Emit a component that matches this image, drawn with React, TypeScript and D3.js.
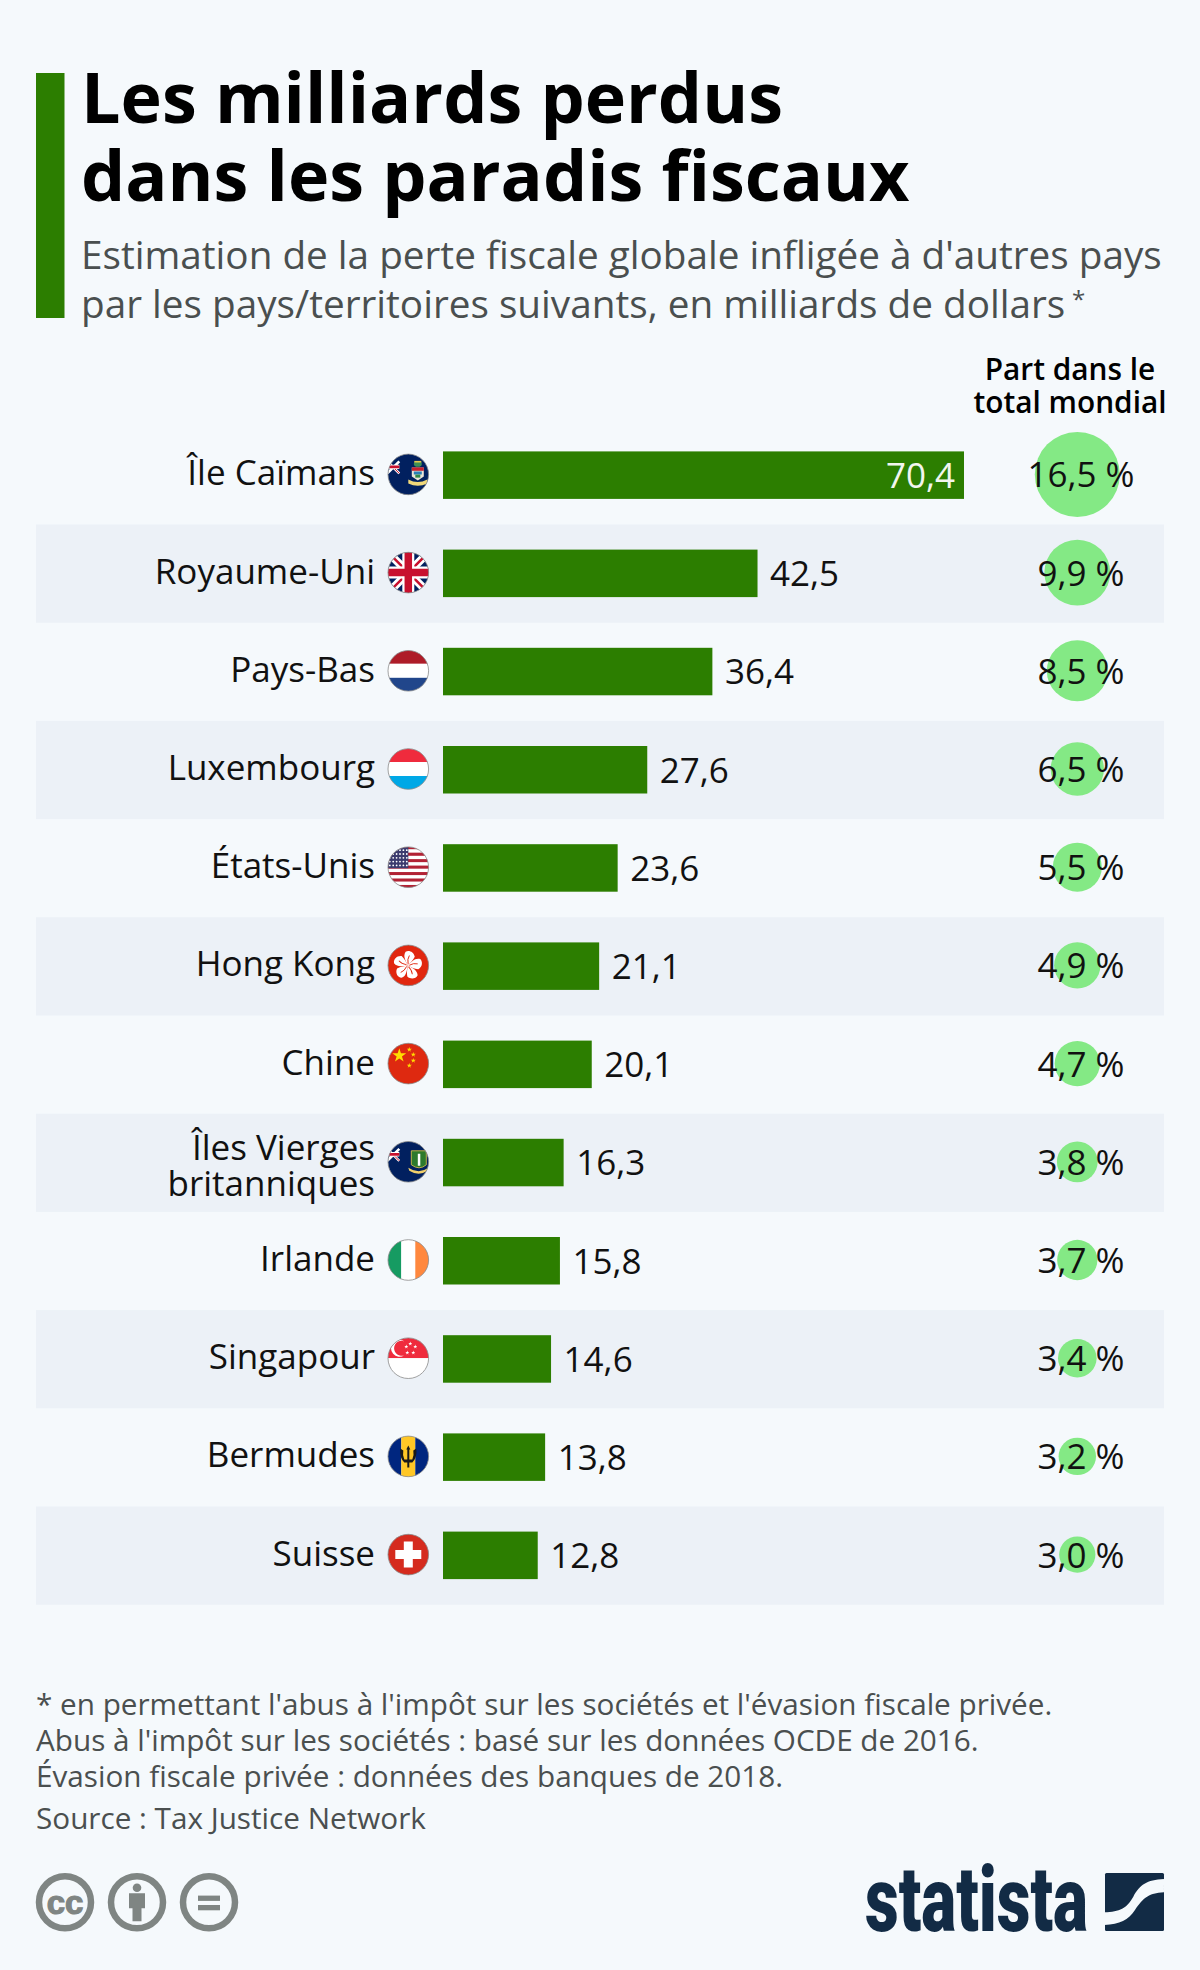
import * as d3 from "d3"

const countries = ["Île Caïmans", "Royaume-Uni", "Pays-Bas", "Luxembourg", "États-Unis", "Hong Kong", "Chine", "Îles Vierges britanniques", "Irlande", "Singapour", "Bermudes", "Suisse"]
const lossValues = [70.4, 42.5, 36.4, 27.6, 23.6, 21.1, 20.1, 16.3, 15.8, 14.6, 13.8, 12.8]
const shareValues = [16.5, 9.9, 8.5, 6.5, 5.5, 4.9, 4.7, 3.8, 3.7, 3.4, 3.2, 3.0]
const flagKeys = ["ky", "uk", "nl", "lu", "us", "hk", "cn", "vg", "ie", "sg", "bb", "ch"]
const titleLines = ["Les milliards perdus", "dans les paradis fiscaux"]
const subtitleLines = ["Estimation de la perte fiscale globale infligée à d'autres pays", "par les pays/territoires suivants, en milliards de dollars"]
const noteLines = ["* en permettant l'abus à l'impôt sur les sociétés et l'évasion fiscale privée.", "Abus à l'impôt sur les sociétés : basé sur les données OCDE de 2016.", "Évasion fiscale privée : données des banques de 2018."]

const FONT = "'Open Sans', sans-serif"
const GREEN = "#2c7e00"
const GREY = "#7f8583"
const NAVY = "#122b45"
const BG = "#f5f9fc"
const fr = (v: number) => d3.format(".1f")(v).replace(".", ",")

const x = d3.scaleLinear().domain([0, 70.4]).range([443, 964])
const y = d3.scaleBand<string>().domain(countries).range([426.3, 1604.7])
const r = d3.scaleSqrt().domain([0, 16.5]).range([0, 42.5])

const star = (size: number) => d3.symbol(d3.symbolStar, size)() as string

const Stripes = ({ colors, vertical }: { colors: string[], vertical?: boolean }) => {
  const s = d3.scaleBand<number>().domain(d3.range(colors.length)).range([-21, 21])
  return <>
    {colors.map((c, i) => vertical
      ? <rect key={i} x={s(i)} y={-21} width={s.bandwidth()} height={42} fill={c} />
      : <rect key={i} x={-21} y={s(i)} width={42} height={s.bandwidth()} fill={c} />)}
  </>
}

// blue ensign shared by the two british territories
const Ensign = () => <>
  <rect x={-21} y={-21} width={42} height={42} fill="#01205f" />
  <path d="M-21,-13 L-9,-1 M-21,-1 L-9,-13" stroke="#fff" strokeWidth={2.6} />
  <path d="M-21,-13 L-9,-1" stroke="#c8102e" strokeWidth={1} />
  <path d="M-21,-7.5 H-9" stroke="#fff" strokeWidth={4.4} />
  <path d="M-21,-7.5 H-9" stroke="#c8102e" strokeWidth={2.8} />
</>

const FlagArt = ({ k }: { k: string }) => {
  switch (k) {
    case "ky":
      return <>
        <Ensign />
        <ellipse cx={9.5} cy={-10.5} rx={4} ry={2.8} fill="#3f8f55" />
        <rect x={6} y={-13.5} width={7} height={1.6} fill="#e8c84a" />
        <path d="M3.5,-7 h12 v9 l-6,4 l-6,-4 z" fill="#e9e4d8" />
        <rect x={3.5} y={-7} width={12} height={3.4} fill="#c8202e" />
        <path d="M5.5,-3 h8 v3 h-8 z" fill="#2a7fb8" />
        <rect x={7} y={0.2} width={5} height={3} fill="#2f8a4a" />
        <path d="M0,5 Q9.5,10 19,5 l0,4 Q9.5,13.5 0,9 z" fill="#f0d87a" />
      </>
    case "uk":
      return <>
        <rect x={-21} y={-21} width={42} height={42} fill="#01205f" />
        <path d="M-21,-21 L21,21 M-21,21 L21,-21" stroke="#fff" strokeWidth={8} />
        <path d="M-21,-21 L21,21 M-21,21 L21,-21" stroke="#c8102e" strokeWidth={2.5} />
        <path d="M0,-21 V21 M-21,0 H21" stroke="#fff" strokeWidth={12} />
        <path d="M0,-21 V21 M-21,0 H21" stroke="#c8102e" strokeWidth={7.5} />
      </>
    case "nl":
      return <Stripes colors={["#ae1c28", "#fff", "#21468b"]} />
    case "lu":
      return <Stripes colors={["#ef2b3d", "#fff", "#00a8e6"]} />
    case "us":
      return <>
        <Stripes colors={d3.range(13).map(i => i % 2 ? "#fff" : "#b22234")} />
        <rect x={-21} y={-21} width={21} height={22} fill="#3c3b6e" />
        {d3.range(5).flatMap(row => d3.range(6).map(col =>
          <circle key={row + "-" + col} cx={-18.5 + col * 3.4} cy={-17 + row * 3.8} r={0.9} fill="#fff" />))}
      </>
    case "hk":
      return <>
        <rect x={-21} y={-21} width={42} height={42} fill="#e1270f" />
        <g transform="translate(-0.5,0) rotate(12)">
          {d3.range(5).map(i =>
            <path key={i} transform={`rotate(${i * 72})`} d="M0,0 C-3,-4 -7,-8 -5,-13 C-2,-15.5 3,-14.5 5,-10 C4,-6 2,-3 0,0 Z" fill="#fff" />)}
          {d3.range(5).map(i =>
            <path key={i} transform={`rotate(${i * 72})`} d="M0,-1.5 Q-2,-6 -0.5,-10" fill="none" stroke="#e1270f" strokeWidth={0.9} />)}
        </g>
      </>
    case "cn":
      return <>
        <rect x={-21} y={-21} width={42} height={42} fill="#de2910" />
        <path transform="translate(-9,-8)" d={star(60)} fill="#ffde00" />
        {[[1, -14], [5, -9], [5, -3], [1, 2]].map(([px, py], i) =>
          <path key={i} transform={`translate(${px},${py})`} d={star(8)} fill="#ffde00" />)}
      </>
    case "vg":
      return <>
        <Ensign />
        <path d="M3,-11 h15 v14 q-7,6 -15,0 z" fill="#2d7a2d" stroke="#e8c84a" strokeWidth={0.8} />
        <path d="M9.5,-8 h2.5 v12 h-2.5 z" fill="#fff" />
        <path d="M0,6 Q10.5,13 20,6 l-1,3 Q10.5,15 1,9 z" fill="#f2d06b" />
      </>
    case "ie":
      return <Stripes vertical colors={["#169b62", "#fff", "#ff883e"]} />
    case "sg":
      return <>
        <Stripes colors={["#ef2b3d", "#fff"]} />
        <path d="M-4,-17 A8.5,8.5 0 1 0 -4,-3 A7.5,7.5 0 1 1 -4,-17 Z" fill="#fff" />
        {[[1, -15], [6, -12], [4, -6], [-2, -6], [-3, -12]].map(([px, py], i) =>
          <path key={i} transform={`translate(${px + 1},${py + 0.5})`} d={star(5)} fill="#fff" />)}
      </>
    case "bb":
      return <>
        <Stripes vertical colors={["#00267f", "#ffc726", "#00267f"]} />
        <path d="M0,-11 L2,-7 L1,-7 V3 H4 Q6,-1 5,-6 L8,-8 Q9,1 4,6 H1 V11 H-1 V6 H-4 Q-9,1 -8,-8 L-5,-6 Q-6,-1 -4,3 H-1 V-7 H-2 Z" fill="#1a1a1a" />
      </>
    case "ch":
      return <>
        <rect x={-21} y={-21} width={42} height={42} fill="#d52b1e" />
        <path d="M-4.5,-13 h9 v8.5 h8.5 v9 h-8.5 v8.5 h-9 v-8.5 h-8.5 v-9 h8.5 z" fill="#fff" />
      </>
    default:
      return null
  }
}

const Flag = ({ k, cy }: { k: string, cy: number }) => <g transform={`translate(408.3,${cy})`}>
  <clipPath id={"clip-" + k}><circle r={20.3} /></clipPath>
  <g clipPath={`url(#clip-${k})`}><FlagArt k={k} /></g>
  <circle r={20.3} fill="none" stroke="#8a8a8a" strokeWidth={0.8} />
</g>

const CcIcon = ({ cx, children }: { cx: number, children: any }) => <g transform={`translate(${cx},1902.3)`}>
  <circle r={26} fill="none" stroke={GREY} strokeWidth={6.5} />
  {children}
</g>

export default function App() {
  return (
    <svg width={1200} height={1970} viewBox="0 0 1200 1970" style={{ position: "absolute", left: 0, top: 0, display: "block" }} fontFamily={FONT}>
      <rect width={1200} height={1970} fill={BG} />

      <rect x={36} y={73} width={28.5} height={245} fill={GREEN} />
      <text fontSize={70} fontWeight={700} fill="#000">
        {titleLines.map((t, i) => <tspan key={t} x={81} y={123 + i * 78}>{t}</tspan>)}
      </text>
      <text fontSize={38.7} fill="#4a4f4f">
        {subtitleLines.map((t, i) => <tspan key={t} x={81} y={269 + i * 48.5}>{t}</tspan>)}
        <tspan x={1072} y={308} fontSize={24}>*</tspan>
      </text>

      <text textAnchor="middle" fontSize={29.8} fontWeight={600} fill="#000">
        <tspan x={1070} y={380}>Part dans le</tspan>
        <tspan x={1070} y={413}>total mondial</tspan>
      </text>

      {countries.map((c, i) => i % 2 === 1 &&
        <rect key={c} x={36} y={y(c)} width={1128} height={y.bandwidth()} fill="#ecf1f7" />)}

      {countries.map((c, i) => {
        const cy = y(c)! + y.bandwidth() / 2
        const two = c.startsWith("Îles Vierges")
        const inside = lossValues[i] > 60
        return <g key={c}>
          {two
            ? <text textAnchor="end" fontSize={35} fill="#111">
              <tspan x={375} y={cy - 3}>Îles Vierges</tspan>
              <tspan x={375} y={cy + 33.5}>britanniques</tspan>
            </text>
            : <text textAnchor="end" x={375} y={cy + 10} fontSize={35} fill="#111">{c}</text>}
          <Flag k={flagKeys[i]} cy={cy - 1} />
          <rect x={x(0)} y={cy - 24} width={x(lossValues[i]) - x(0)} height={47.5} fill={GREEN} />
          <text x={inside ? x(lossValues[i]) - 9 : x(lossValues[i]) + 12.5} textAnchor={inside ? "end" : "start"} y={cy + 12.5} fontSize={35} fill={inside ? "#f2f6ee" : "#111"}>{fr(lossValues[i])}</text>
          <circle cx={1077.3} cy={cy - 1} r={r(shareValues[i])} fill="#84e985" />
          <text x={1081} textAnchor="middle" y={cy + 12} fontSize={35} fill="#111">{fr(shareValues[i]) + " %"}</text>
        </g>
      })}

      <text fontSize={29.7} fill="#4a4f4f">
        {noteLines.map((t, i) => <tspan key={t} x={36} y={1715 + i * 36}>{t}</tspan>)}
      </text>
      <text x={36} y={1829} fontSize={29.7} fill="#4a4f4f">Source : Tax Justice Network</text>

      <CcIcon cx={65}>
        <text textAnchor="middle" y={11.5} fontSize={33} fontWeight={700} fill={GREY} fontFamily="'Liberation Sans', sans-serif" stroke={GREY} strokeWidth={1.2}>cc</text>
      </CcIcon>
      <CcIcon cx={137}>
        <circle cy={-14.5} r={4.3} fill={GREY} />
        <path d="M-8,-9 H8 V6 H4.5 V19 H-4.5 V6 H-8 Z" fill={GREY} />
      </CcIcon>
      <CcIcon cx={209}>
        <rect x={-11} y={-6.7} width={22} height={5.3} fill={GREY} />
        <rect x={-11} y={2.7} width={22} height={5.3} fill={GREY} />
      </CcIcon>

      <text x={865} y={1931} fontSize={90} fontWeight={900} fill={NAVY} fontFamily="Roboto, sans-serif" textLength={223} lengthAdjust="spacingAndGlyphs">statista</text>
      <rect x={1105} y={1873} width={59} height={58} rx={1.5} fill={NAVY} />
      <path transform="translate(860,1865) scale(0.3333)" d="M912,42 C860,44 840,60 820,95 C800,130 780,140 733,142 L733,180 C780,178 805,165 825,135 C850,100 865,84 912,82 Z" fill={BG} />
    </svg>
  )
}
